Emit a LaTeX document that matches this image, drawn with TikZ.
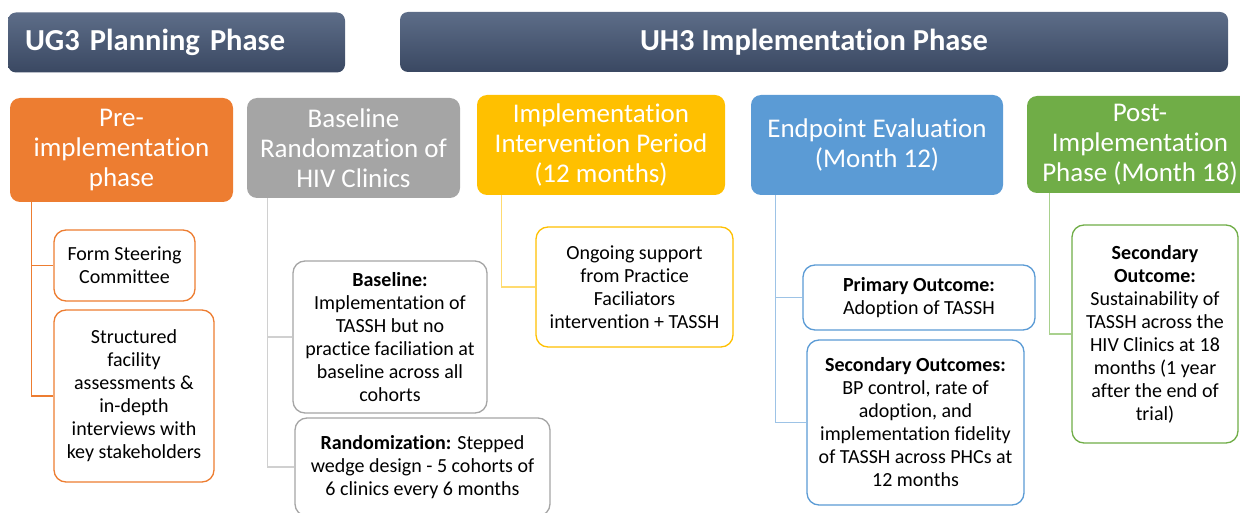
\documentclass[tikz,border=0pt]{standalone}
\usepackage{fontspec}
\setmainfont{Carlito}[Ligatures=NoCommon]
\usetikzlibrary{calc}
\definecolor{barTop}{HTML}{5D6D88}
\definecolor{barBot}{HTML}{3A4862}
\definecolor{orangeC}{HTML}{ED7D31}
\definecolor{grayC}{HTML}{A5A5A5}
\definecolor{yellowC}{HTML}{FFC000}
\definecolor{blueC}{HTML}{5B9BD5}
\definecolor{greenC}{HTML}{70AD47}
\definecolor{grayL}{HTML}{D0D0D0}
\definecolor{yellowL}{HTML}{FFDB70}
\definecolor{blueL}{HTML}{9DC3E6}
\definecolor{greenL}{HTML}{A9D18E}
\begin{document}
\begin{tikzpicture}[x=1pt,y=-1pt,
  bar/.style={rounded corners=8pt, top color=barTop, bottom color=barBot, text=white,
    font=\fontsize{30.5}{34}\selectfont\bfseries, inner sep=0pt, minimum height=60pt},
  head/.style={rounded corners=10pt, fill=#1, text=white, font=\fontsize{27}{30}\selectfont,
    align=center, inner sep=0pt},
  sub/.style={rounded corners=12pt, draw=#1, line width=1.3pt, fill=white,
    font=\fontsize{20}{23}\selectfont, align=center, inner sep=0pt},
  link/.style={draw=#1, line width=1.2pt}]
\useasboundingbox (0,0) rectangle (1240,513);
% phase bars
\node[bar, minimum width=337pt, text width=303pt, align=left] (ug3) at (176.5,42.5) {UG3 Planning Phase};
\node[bar, minimum width=828pt] (uh3) at (814,42) {UH3 Implementation Phase};
% stage headers
\node[head=orangeC, minimum width=223pt, minimum height=104pt] (pre) at (121.5,150) {Pre-\\implementation\\phase};
\node[head=grayC, minimum width=213pt, minimum height=100pt] (base) at (353.5,148) {Baseline\\Randomzation of\\HIV Clinics};
\node[head=yellowC, minimum width=248pt, minimum height=100pt] (impl) at (601,145) {Implementation\\Intervention Period\\(12 months)};
\node[head=blueC, minimum width=252pt, minimum height=100pt] (endp) at (877,145) {Endpoint Evaluation\\(Month 12)};
\node[head=greenC, minimum width=226pt, minimum height=97pt] (post) at (1140,144.5) {Post-\\Implementation\\Phase (Month 18)};
% detail boxes
\node[sub=orangeC, minimum width=141pt, minimum height=71pt] (form) at (124.5,265.5) {Form Steering\\Committee};
\node[sub=orangeC, minimum width=160pt, minimum height=172pt] (struct) at (134,396) {Structured\\facility\\assessments \&\\in-depth\\interviews with\\key stakeholders};
\node[sub=grayC, minimum width=194pt, minimum height=152pt] (bline) at (390,337) {\textbf{Baseline:}\\Implementation of\\TASSH but no\\practice faciliation at\\baseline across all\\cohorts};
\node[sub=grayC, minimum width=255pt, minimum height=98pt] (rand) at (422.5,467) {\textbf{Randomization:} Stepped\\wedge design - 5 cohorts of\\6 clinics every 6 months};
\node[sub=yellowC, minimum width=197pt, minimum height=120pt] (ongo) at (634.5,287) {Ongoing support\\from Practice\\Faciliators\\intervention + TASSH};
\node[sub=blueC, minimum width=232pt, minimum height=65pt] (prim) at (919,297.5) {\textbf{Primary Outcome:}\\Adoption of TASSH};
\node[sub=blueC, minimum width=217pt, minimum height=165pt] (sec) at (915.5,422.5) {\textbf{Secondary Outcomes:}\\BP control, rate of\\adoption, and\\implementation fidelity\\of TASSH across PHCs at\\12 months};
\node[sub=greenC, minimum width=166pt, minimum height=218pt] (sust) at (1155,334) {\textbf{Secondary}\\\textbf{Outcome:}\\Sustainability of\\TASSH across the\\HIV Clinics at 18\\months (1 year\\after the end of\\trial)};
% connectors
\draw[link=orangeC] ($(pre.south west)+(22,0)$) |- (form.west);
\draw[link=orangeC] ($(pre.south west)+(22,0)$) |- (struct.west);
\draw[link=grayL] ($(base.south west)+(21,0)$) |- (bline.west);
\draw[link=grayL] ($(base.south west)+(21,0)$) |- (rand.west);
\draw[link=yellowL] ($(impl.south west)+(25,0)$) |- (ongo.west);
\draw[link=blueL] ($(endp.south west)+(25,0)$) |- (prim.west);
\draw[link=blueL] ($(endp.south west)+(25,0)$) |- (sec.west);
\draw[link=greenL] ($(post.south west)+(23,0)$) |- (sust.west);
\end{tikzpicture}
\end{document}
